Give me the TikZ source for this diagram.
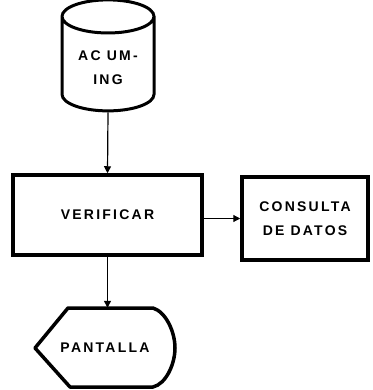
\documentclass[tikz,border=0pt]{standalone}
\usepackage{fontspec}
\newfontfamily\flowfont[LetterSpace=16]{Liberation Sans}
\usetikzlibrary{shapes.geometric,arrows.meta}

\begin{document}
\begin{tikzpicture}[
  x=1pt, y=-1pt,
  txt/.style={font=\flowfont\bfseries\fontsize{14}{23.5}\selectfont, align=center},
  box/.style={draw, line width=3.5pt, txt},
  arr/.style={line width=1.2pt, -{Triangle[width=7pt,length=7pt]}}
]
\useasboundingbox (0,0) rectangle (372,390);
% storage
\node[cylinder, shape border rotate=90, draw, line width=3pt, aspect=0.5,
  minimum width=92pt, minimum height=111pt, txt] (acum) at (108,67.5) {AC UM-\\ING};
% process and query
\node[box, minimum width=189pt, minimum height=80pt] (verif) at (107.5,215) {VERIFICAR};
\node[box, minimum width=126pt, minimum height=83pt] (consulta) at (305,218.5) {CONSULTA\\DE DATOS};
% display
\node[txt, minimum width=140pt, minimum height=79pt] (pantalla) at (105,347.5) {PANTALLA};
\draw[line width=3.5pt, line join=round] (35,348) -- (68,308) -- (153,308)
  .. controls (166,312) and (175,332) .. (175,348)
  .. controls (175,364) and (166,384) .. (153,387) -- (70,387) -- cycle;
% flow
\draw[arr] (acum.bottom) -- (verif.north);
\draw[arr] (verif.east |- consulta.west) -- (consulta.west);
\draw[arr] (verif.south) -- (verif.south |- pantalla.north);
\end{tikzpicture}
\end{document}
